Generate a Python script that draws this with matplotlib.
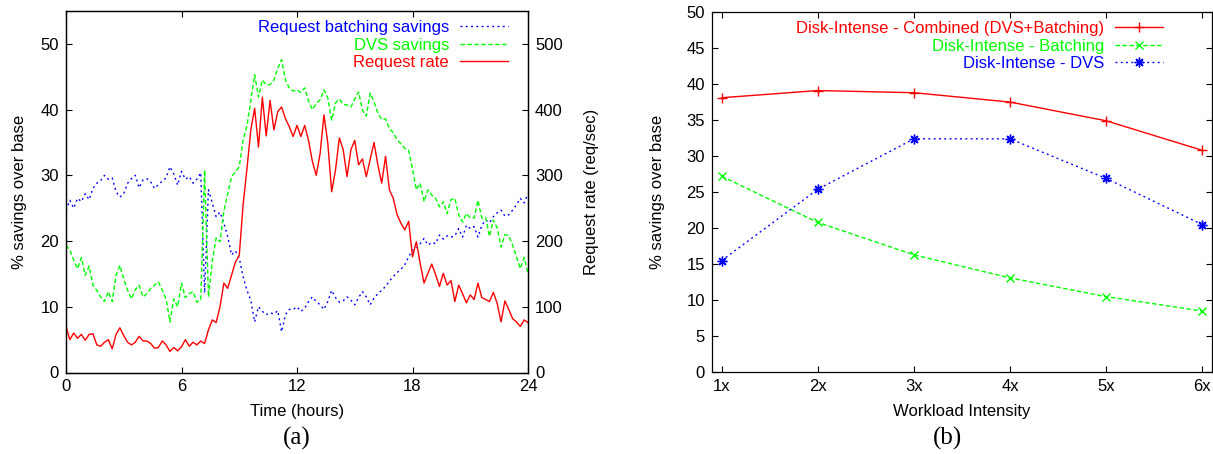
import numpy as np
import matplotlib
matplotlib.use("Agg")
import matplotlib.pyplot as plt

plt.rcParams['font.family'] = ['Liberation Sans', 'DejaVu Sans']
plt.rcParams['font.size'] = 12

# (a) time series, one sample every 0.2 h from 0 to 24 h
request_rate = [  # req/sec
    70, 50, 60, 52, 58, 49, 58, 59, 42, 40,
    46, 50, 36, 58, 68, 56, 46, 42, 46, 55,
    48, 48, 44, 37, 38, 48, 42, 32, 38, 33,
    39, 50, 40, 46, 42, 48, 44, 65, 80, 76,
    100, 136, 128, 148, 168, 178, 255, 310, 369, 402,
    343, 419, 360, 414, 369, 397, 404, 386, 374, 359,
    376, 359, 376, 353, 321, 300, 333, 392, 349, 275,
    308, 357, 339, 298, 339, 353, 316, 325, 298, 324,
    350, 316, 288, 329, 278, 265, 240, 227, 217, 230,
    176, 199, 166, 136, 151, 165, 149, 131, 151, 133,
    140, 108, 133, 120, 106, 118, 111, 136, 114, 111,
    108, 122, 105, 77, 109, 96, 82, 77, 70, 80,
    76,
]
batching_savings = [
    24.7, 26.2, 25.0, 26.5, 26.0, 27.2, 26.3, 28.0, 28.8, 29.2,
    30.0, 29.4, 29.6, 27.5, 26.7, 27.2, 28.8, 29.5, 30.0, 28.1,
    29.3, 29.5, 29.0, 28.0, 28.6, 29.1, 29.6, 31.3, 30.2, 28.5,
    30.6, 29.4, 29.8, 28.8, 29.4, 30.4, 12.1, 27.8, 25.8, 23.7,
    24.4, 22.7, 20.7, 17.9, 18.5, 17.4, 14.6, 12.5, 11.0, 7.7,
    10.0, 9.3, 8.8, 9.1, 8.9, 9.4, 6.2, 8.8, 9.6, 9.6,
    10.0, 9.3, 9.8, 10.8, 11.5, 10.8, 10.3, 9.6, 10.8, 12.5,
    11.4, 10.7, 10.9, 11.5, 11.0, 10.3, 11.4, 12.3, 11.5, 10.3,
    11.3, 12.0, 12.5, 13.1, 13.9, 14.6, 15.2, 15.7, 16.4, 17.6,
    18.6, 18.9, 19.6, 20.4, 19.4, 19.8, 19.6, 20.9, 20.3, 20.8,
    20.6, 20.8, 21.9, 20.6, 22.4, 21.9, 22.2, 20.6, 22.4, 23.2,
    22.8, 23.7, 24.3, 24.7, 23.8, 24.0, 24.7, 25.5, 26.5, 25.8,
    27.2,
]
dvs_savings = [
    19.4, 18.6, 17.1, 15.8, 17.5, 14.8, 16.2, 13.3, 12.5, 11.5,
    10.8, 12.3, 10.8, 14.8, 16.3, 14.2, 12.5, 11.2, 12.6, 13.3,
    11.5, 12.0, 12.8, 13.3, 13.8, 12.5, 11.2, 7.7, 11.2, 10.0,
    13.6, 11.4, 12.0, 12.3, 10.7, 11.0, 30.8, 11.5, 17.0, 20.5,
    19.9, 24.5, 27.2, 29.8, 30.5, 31.3, 35.4, 37.5, 41.4, 45.3,
    41.9, 44.5, 43.8, 43.8, 44.5, 46.3, 47.6, 44.5, 43.3, 42.8,
    43.0, 42.6, 43.3, 41.3, 40.0, 40.9, 41.5, 43.0, 41.8, 38.4,
    41.0, 41.6, 40.8, 40.7, 40.4, 41.6, 42.7, 39.9, 39.0, 42.5,
    41.2, 39.5, 38.5, 38.6, 37.1, 36.5, 35.4, 34.8, 34.1, 33.8,
    31.0, 27.8, 28.8, 26.0, 27.8, 27.0, 26.5, 25.2, 26.0, 24.2,
    26.3, 26.5, 24.0, 22.9, 24.2, 23.5, 23.5, 26.2, 23.5, 23.6,
    20.7, 23.2, 22.0, 19.1, 21.0, 20.8, 19.4, 17.6, 15.8, 17.5,
    15.0,
]
hours = np.linspace(0, 24, len(request_rate))

# (b) savings vs workload intensity
intensity = ['1x', '2x', '3x', '4x', '5x', '6x']
combined = [38.1, 39.1, 38.8, 37.5, 34.9, 30.8]
batching = [27.2, 20.8, 16.3, 13.1, 10.5, 8.5]
dvs = [15.5, 25.4, 32.4, 32.4, 26.9, 20.5]

RED, GREEN, BLUE = '#ff0000', '#00ff00', '#0000ff'
dash_green = (0, (3.2, 1.8))
dot_blue = (0, (1.4, 2.4))

fig = plt.figure(figsize=(12.13, 4.54), dpi=100)
W, H = 1213, 454

def tidy(ax):
    for s in ax.spines.values():
        s.set_linewidth(0.9)
    ax.tick_params(direction='in', length=4.5, width=0.8, pad=5)

legend_kw = dict(loc='upper right', frameon=False, markerfirst=False,
                 handlelength=2.9, handletextpad=0.65, labelspacing=0.15,
                 borderaxespad=0, borderpad=0, labelcolor='linecolor')

# ---- (a)
ax = fig.add_axes([66 / W, 1 - 372.5 / H, 462 / W, 361.5 / H])
ax.plot(hours, batching_savings, color=BLUE, lw=1.0, ls=dot_blue,
        label='Request batching savings')
ax.plot(hours, dvs_savings, color=GREEN, lw=1.0, ls=dash_green,
        label='DVS savings')
ax.set_xlim(0, 24)
ax.set_ylim(0, 55)
ax.set_xticks([0, 6, 12, 18, 24])
ax.set_yticks(range(0, 51, 10))
tidy(ax)
ax.tick_params(top=True, right=False)
ax.set_xlabel('Time (hours)')
ax.set_ylabel('% savings over base')
ax.xaxis.set_label_coords(0.5, -0.088)
ax.yaxis.set_label_coords(-0.085, 0.5)

ax2 = ax.twinx()
ax2.plot(hours, request_rate, color=RED, lw=1.0, label='Request rate')
ax2.set_ylim(0, 550)
ax2.set_yticks(range(0, 501, 100))
tidy(ax2)
ax2.set_ylabel('Request rate (req/sec)')
ax2.yaxis.set_label_coords(1.121, 0.5)

h1, l1 = ax.get_legend_handles_labels()
h2, l2 = ax2.get_legend_handles_labels()
ax2.legend(h1 + h2, l1 + l2, bbox_to_anchor=(0.957, 0.975), **legend_kw)

# ---- (b)
bx = fig.add_axes([712 / W, 1 - 372.3 / H, 500 / W, 360.3 / H])
pos = range(1, len(intensity) + 1)
bx.plot(pos, combined, color=RED, lw=1.0, marker='+', ms=7, mew=1.0,
        label='Disk-Intense - Combined (DVS+Batching)')
bx.plot(pos, batching, color=GREEN, lw=1.0, ls=dash_green, marker='x', ms=6, mew=1.0,
        label='Disk-Intense - Batching')
bx.plot(pos, dvs, color=BLUE, lw=1.0, ls=dot_blue, marker=(8, 2, 0), ms=7, mew=1.0,
        label='Disk-Intense - DVS')
bx.set_xlim(0.9, 6.1)
bx.set_ylim(0, 50)
bx.set_xticks(list(pos))
bx.set_xticklabels(intensity)
bx.set_yticks(range(0, 51, 5))
tidy(bx)
bx.tick_params(top=True, right=True)
bx.set_xlabel('Workload Intensity')
bx.set_ylabel('% savings over base')
bx.xaxis.set_label_coords(0.5, -0.088)
bx.yaxis.set_label_coords(-0.094, 0.5)
bx.legend(bbox_to_anchor=(0.902, 0.975), **legend_kw)

fig.text(297 / W, 1 - 438 / H, '(a)', ha='center', va='center',
         family='Liberation Serif', fontsize=18)
fig.text(947 / W, 1 - 438 / H, '(b)', ha='center', va='center',
         family='Liberation Serif', fontsize=18)

fig.savefig('out.png', dpi=100)
